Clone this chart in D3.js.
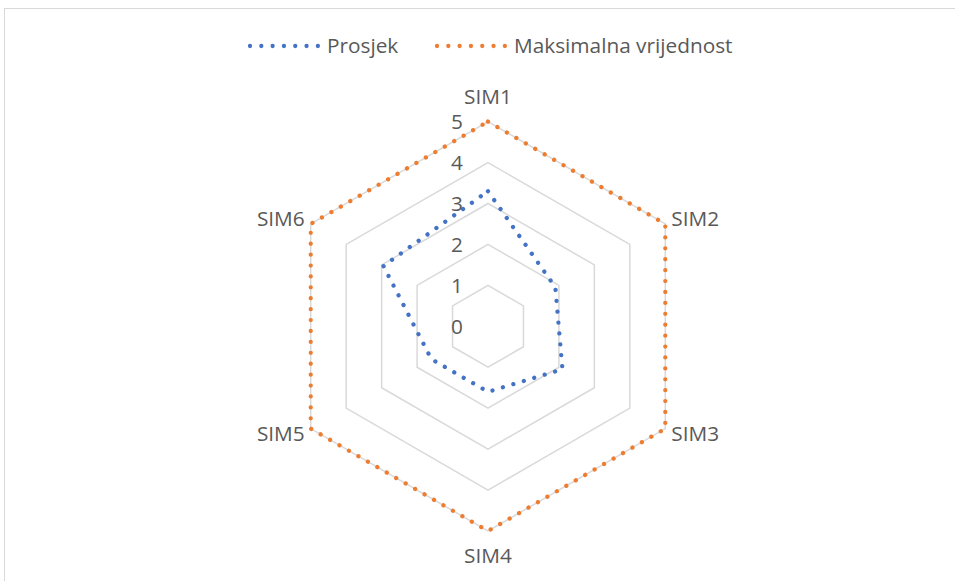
<!DOCTYPE html>
<html>
<head>
<meta charset="utf-8">
<script src="https://cdn.jsdelivr.net/npm/d3@7"></script>
<style>
  body { margin: 0; background: #fff; }
  svg text { font-family: "Open Sans", "Liberation Sans", sans-serif; fill: #595959; }
</style>
</head>
<body>
<script>
// data
var categories = ['SIM1','SIM2','SIM3','SIM4','SIM5','SIM6'];
var prosjek = [3.3, 1.9, 2.1, 1.6, 1.6, 2.95];
var maksimalna = [5, 5, 5, 5, 5, 5];
var ticks = [0, 1, 2, 3, 4, 5];
var seriesNames = ['Prosjek', 'Maksimalna vrijednost'];
var seriesColors = ['#4472C4', '#ED7D31'];

var W = 955, H = 581;
var cx = 488, cy = 326.3, R = 204.7;
var fs = 20.8;

var svg = d3.select('body').append('svg').attr('width', W).attr('height', H);

// chart frame (runs off the right and bottom edge)
svg.append('rect').attr('x', 4.5).attr('y', 8.5).attr('width', W + 10).attr('height', H + 10)
  .attr('fill', 'none').attr('stroke', '#d9d9d9').attr('stroke-width', 1);

var r = d3.scaleLinear().domain([0, 5]).range([0, R]);
var angle = d3.scalePoint().domain(categories.concat(['_end'])).range([0, 2 * Math.PI]);

function pt(cat, v) {
  var a = angle(cat);
  return [cx + r(v) * Math.sin(a), cy - r(v) * Math.cos(a)];
}

var line = d3.line().curve(d3.curveLinearClosed);

// grid rings
var grid = svg.append('g').attr('class', 'grid');
grid.selectAll('path').data(ticks.filter(function(t){ return t > 0; }))
  .enter().append('path')
  .attr('d', function(t){ return line(categories.map(function(c){ return pt(c, t); })); })
  .attr('fill', 'none').attr('stroke', '#d9d9d9').attr('stroke-width', 1.5);

// series
var series = [prosjek, maksimalna];
svg.append('g').selectAll('path').data(series).enter().append('path')
  .attr('d', function(s){ return line(categories.map(function(c, i){ return pt(c, s[i]); })); })
  .attr('fill', 'none')
  .attr('stroke', function(d, i){ return seriesColors[i]; })
  .attr('stroke-width', 4.3)
  .attr('stroke-linecap', 'round')
  .attr('stroke-dasharray', '0.01 10.9');

// tick labels
svg.append('g').selectAll('text').data(ticks).enter().append('text')
  .attr('x', cx - 25)
  .attr('y', function(t){ return cy - r(t); })
  .attr('dy', '0.35em')
  .attr('text-anchor', 'end')
  .style('font-size', fs + 'px')
  .text(function(t){ return t; });

// category labels
svg.append('g').selectAll('text').data(categories).enter().append('text')
  .each(function(c){
    var p = pt(c, 5);
    var a = angle(c);
    var s = Math.sin(a), co = Math.cos(a);
    var el = d3.select(this);
    if (Math.abs(s) < 0.01) {
      el.attr('x', p[0]).attr('y', p[1] - co * 25).attr('text-anchor', 'middle');
    } else {
      el.attr('x', p[0] + (s > 0 ? 6 : -6)).attr('y', p[1] + (co > 0 ? -5 : 5))
        .attr('text-anchor', s > 0 ? 'start' : 'end');
    }
  })
  .attr('dy', '0.35em')
  .style('font-size', fs + 'px')
  .text(function(c){ return c; });

// legend
var legend = svg.append('g').attr('class', 'legend');
var legX = [250, 437];
seriesNames.forEach(function(n, i){
  var g = legend.append('g');
  g.append('line').attr('x1', legX[i]).attr('x2', legX[i] + 68).attr('y1', 46).attr('y2', 46)
    .attr('stroke', seriesColors[i]).attr('stroke-width', 4.3)
    .attr('stroke-linecap', 'round').attr('stroke-dasharray', '0.01 11.3');
  g.append('text').attr('x', legX[i] + 77).attr('y', 46).attr('dy', '0.35em')
    .style('font-size', fs + 'px').text(n);
});
</script>
</body>
</html>
